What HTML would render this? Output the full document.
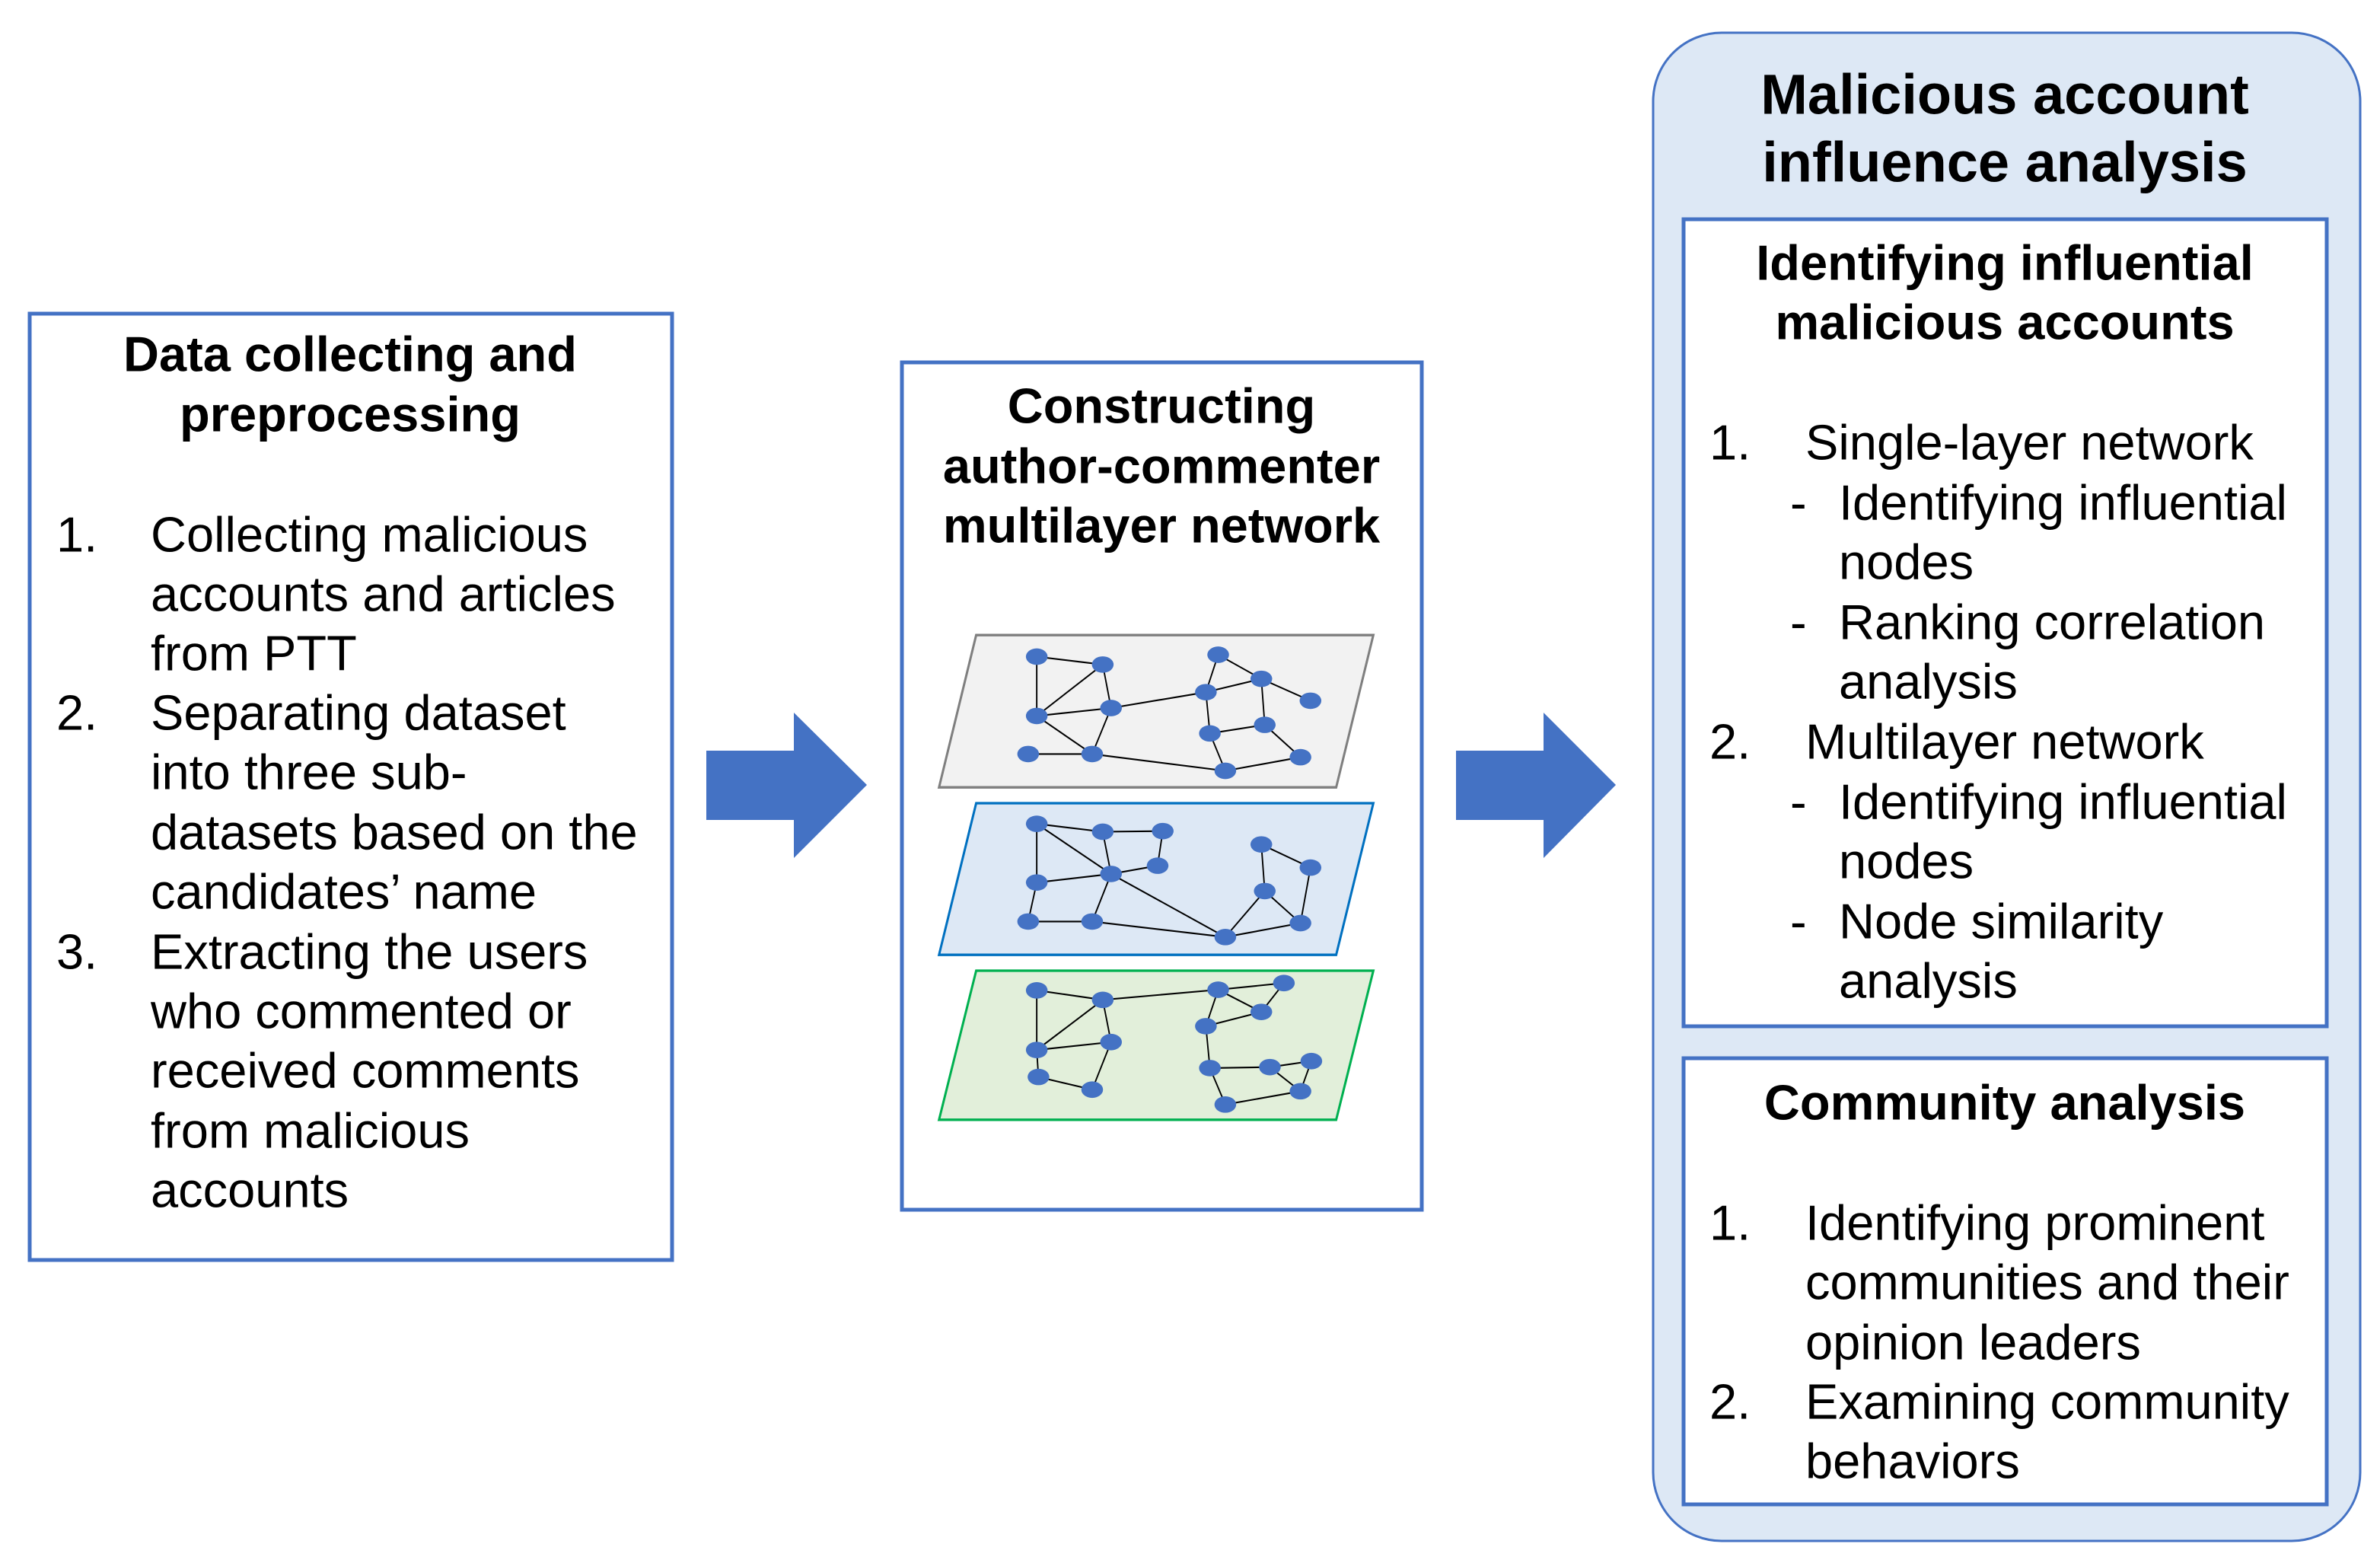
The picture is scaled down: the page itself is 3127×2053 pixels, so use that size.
<!DOCTYPE html>
<html><head><meta charset="utf-8"><style>
html,body{margin:0;padding:0;background:#fff;}
svg{display:block;}
text{font-family:"Liberation Sans",Arial,sans-serif;fill:#000;}
.t{font-size:65px;}
.b{font-size:65px;font-weight:bold;}
.h{font-size:74px;font-weight:bold;}
</style></head><body>
<svg width="3127" height="2053" viewBox="0 0 3127 2053" xmlns="http://www.w3.org/2000/svg">
<!-- Left box -->
<rect x="39" y="412" width="844" height="1243" fill="#fff" stroke="#4472C4" stroke-width="5"/>
<g dominant-baseline="central">
<text class="b" x="460" y="465" text-anchor="middle">Data collecting and</text>
<text class="b" x="460" y="544" text-anchor="middle">preprocessing</text>
<text class="t" x="74" y="702">1.</text>
<text class="t" x="198" y="702">Collecting malicious</text>
<text class="t" x="198" y="780">accounts and articles</text>
<text class="t" x="198" y="858">from PTT</text>
<text class="t" x="74" y="936">2.</text>
<text class="t" x="198" y="936">Separating dataset</text>
<text class="t" x="198" y="1014">into three sub-</text>
<text class="t" x="198" y="1093">datasets based on the</text>
<text class="t" x="198" y="1171">candidates’ name</text>
<text class="t" x="74" y="1250">3.</text>
<text class="t" x="198" y="1250">Extracting the users</text>
<text class="t" x="198" y="1328">who commented or</text>
<text class="t" x="198" y="1406">received comments</text>
<text class="t" x="198" y="1485">from malicious</text>
<text class="t" x="198" y="1563">accounts</text>
</g>
<!-- Arrow 1 -->
<polygon points="928,986 1043,986 1043,936 1139,1031 1043,1127 1043,1077 928,1077" fill="#4472C4"/>
<!-- Middle box -->
<rect x="1185" y="476" width="683" height="1113" fill="#fff" stroke="#4472C4" stroke-width="5"/>
<g dominant-baseline="central">
<text class="b" x="1526" y="533" text-anchor="middle">Constructing</text>
<text class="b" x="1526" y="612" text-anchor="middle">author-commenter</text>
<text class="b" x="1526" y="690" text-anchor="middle">multilayer network</text>
</g>
<svg x="1230" y="830" width="580" height="650" viewBox="0 0 1545 1560" preserveAspectRatio="none">
<g stroke-width="5" stroke="#000" fill="none">
<polygon points="140,10 1530,10 1400,490 10,490" fill="#f2f2f2" stroke="#7f7f7f" stroke-width="8"/>
<path d="M352,78L583,103M352,78L352,265M583,103L352,265M583,103L612,240M352,265L612,240M352,265L546,385M612,240L546,385M322,385L546,385M612,240L944,190M546,385L1012,438M987,72L944,190M987,72L1138,148M944,190L1138,148M1138,148L1310,217M1138,148L1150,293M944,190L958,320M958,320L1150,293M958,320L1012,438M1150,293L1275,395M1275,395L1012,438"/>
<polygon points="140,540 1530,540 1400,1018 10,1018" fill="#dde8f5" stroke="#0070c0" stroke-width="8"/>
<path d="M352,605L583,630M583,630L793,628M793,628L775,737M352,605L612,763M352,605L352,790M583,630L612,763M612,763L775,737M352,790L612,763M352,790L322,913M322,913L546,913M546,913L612,763M612,763L1012,962M546,913L1012,962M1138,670L1310,743M1138,670L1150,817M1310,743L1275,918M1150,817L1012,962M1150,817L1275,918M1275,918L1012,962"/>
<polygon points="140,1068 1530,1068 1400,1538 10,1538" fill="#e2efda" stroke="#00b050" stroke-width="8"/>
<path d="M352,1130L583,1160M352,1130L352,1318M583,1160L352,1318M583,1160L612,1293M352,1318L612,1293M352,1318L358,1403M358,1403L546,1443M546,1443L612,1293M583,1160L987,1128M987,1128L1217,1107M987,1128L1138,1198M1217,1107L1138,1198M1138,1198L944,1243M987,1128L944,1243M944,1243L958,1375M958,1375L1168,1372M1168,1372L1313,1353M1168,1372L1275,1448M1313,1353L1275,1448M958,1375L1012,1490M1012,1490L1275,1448"/>
</g>
<g fill="#4472C4">
<ellipse cx="352" cy="78" rx="38" ry="26"/><ellipse cx="583" cy="103" rx="38" ry="26"/><ellipse cx="352" cy="265" rx="38" ry="26"/><ellipse cx="612" cy="240" rx="38" ry="26"/><ellipse cx="322" cy="385" rx="38" ry="26"/><ellipse cx="546" cy="385" rx="38" ry="26"/><ellipse cx="987" cy="72" rx="38" ry="26"/><ellipse cx="1138" cy="148" rx="38" ry="26"/><ellipse cx="944" cy="190" rx="38" ry="26"/><ellipse cx="1310" cy="217" rx="38" ry="26"/><ellipse cx="958" cy="320" rx="38" ry="26"/><ellipse cx="1150" cy="293" rx="38" ry="26"/><ellipse cx="1275" cy="395" rx="38" ry="26"/><ellipse cx="1012" cy="438" rx="38" ry="26"/>
<ellipse cx="352" cy="605" rx="38" ry="26"/><ellipse cx="583" cy="630" rx="38" ry="26"/><ellipse cx="793" cy="628" rx="38" ry="26"/><ellipse cx="775" cy="737" rx="38" ry="26"/><ellipse cx="612" cy="763" rx="38" ry="26"/><ellipse cx="352" cy="790" rx="38" ry="26"/><ellipse cx="322" cy="913" rx="38" ry="26"/><ellipse cx="546" cy="913" rx="38" ry="26"/><ellipse cx="1138" cy="670" rx="38" ry="26"/><ellipse cx="1310" cy="743" rx="38" ry="26"/><ellipse cx="1150" cy="817" rx="38" ry="26"/><ellipse cx="1012" cy="962" rx="38" ry="26"/><ellipse cx="1275" cy="918" rx="38" ry="26"/>
<ellipse cx="352" cy="1130" rx="38" ry="26"/><ellipse cx="583" cy="1160" rx="38" ry="26"/><ellipse cx="987" cy="1128" rx="38" ry="26"/><ellipse cx="1217" cy="1107" rx="38" ry="26"/><ellipse cx="1138" cy="1198" rx="38" ry="26"/><ellipse cx="944" cy="1243" rx="38" ry="26"/><ellipse cx="352" cy="1318" rx="38" ry="26"/><ellipse cx="612" cy="1293" rx="38" ry="26"/><ellipse cx="358" cy="1403" rx="38" ry="26"/><ellipse cx="546" cy="1443" rx="38" ry="26"/><ellipse cx="958" cy="1375" rx="38" ry="26"/><ellipse cx="1168" cy="1372" rx="38" ry="26"/><ellipse cx="1313" cy="1353" rx="38" ry="26"/><ellipse cx="1275" cy="1448" rx="38" ry="26"/><ellipse cx="1012" cy="1490" rx="38" ry="26"/>
</g>
</svg>
<!-- Arrow 2 -->
<polygon points="1913,986 2028,986 2028,936 2123,1031 2028,1127 2028,1077 1913,1077" fill="#4472C4"/>
<!-- Right outer -->
<rect x="2172" y="43" width="929" height="1981" rx="90" ry="90" fill="#dde8f5" stroke="#4472C4" stroke-width="3"/>
<g dominant-baseline="central">
<text class="h" x="2634" y="124" text-anchor="middle">Malicious account</text>
<text class="h" x="2634" y="213" text-anchor="middle">influence analysis</text>
</g>
<rect x="2212" y="288" width="845" height="1060" fill="#fff" stroke="#4472C4" stroke-width="5"/>
<g dominant-baseline="central">
<text class="b" x="2634" y="345" text-anchor="middle">Identifying influential</text>
<text class="b" x="2634" y="423" text-anchor="middle">malicious accounts</text>
<text class="t" x="2246" y="581">1.</text>
<text class="t" x="2372" y="581">Single-layer network</text>
<text class="t" x="2352" y="660">-</text>
<text class="t" x="2416" y="660">Identifying influential</text>
<text class="t" x="2416" y="738">nodes</text>
<text class="t" x="2352" y="817">-</text>
<text class="t" x="2416" y="817">Ranking correlation</text>
<text class="t" x="2416" y="895">analysis</text>
<text class="t" x="2246" y="974">2.</text>
<text class="t" x="2372" y="974">Multilayer network</text>
<text class="t" x="2352" y="1053">-</text>
<text class="t" x="2416" y="1053">Identifying influential</text>
<text class="t" x="2416" y="1131">nodes</text>
<text class="t" x="2352" y="1210">-</text>
<text class="t" x="2416" y="1210">Node similarity</text>
<text class="t" x="2416" y="1288">analysis</text>
</g>
<rect x="2212" y="1390" width="845" height="586" fill="#fff" stroke="#4472C4" stroke-width="5"/>
<g dominant-baseline="central">
<text class="b" x="2634" y="1448" text-anchor="middle">Community analysis</text>
<text class="t" x="2246" y="1606">1.</text>
<text class="t" x="2372" y="1606">Identifying prominent</text>
<text class="t" x="2372" y="1684">communities and their</text>
<text class="t" x="2372" y="1763">opinion leaders</text>
<text class="t" x="2246" y="1841">2.</text>
<text class="t" x="2372" y="1841">Examining community</text>
<text class="t" x="2372" y="1919">behaviors</text>
</g>
</svg>
</body></html>
